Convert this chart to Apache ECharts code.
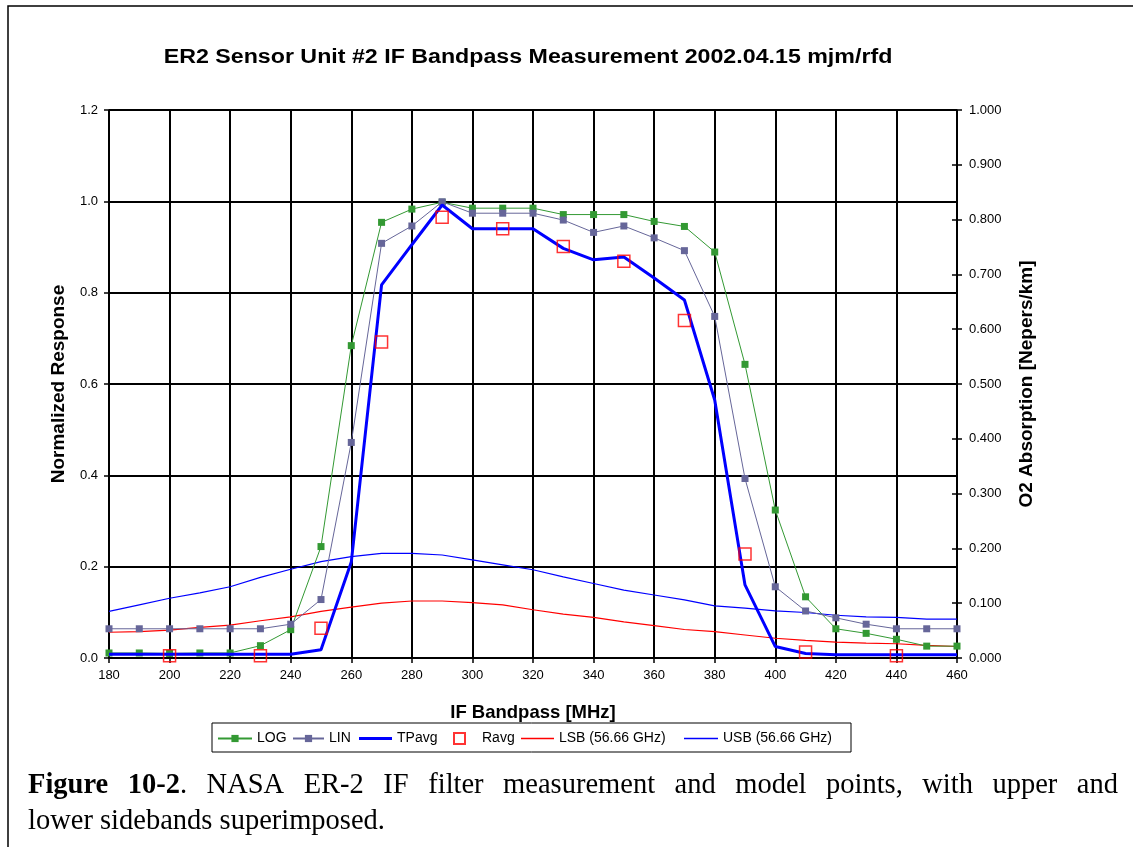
<!DOCTYPE html>
<html>
<head>
<meta charset="utf-8">
<script src="https://cdn.jsdelivr.net/npm/echarts@6/dist/echarts.min.js"></script>
<style>
  html, body { margin: 0; padding: 0; background: #fff; }
  #chart { width: 1133px; height: 847px; }
</style>
</head>
<body>
<div id="chart"></div>
<script>
// IF frequency grid for the measured curves (MHz)
const freqs = [180,190,200,210,220,230,240,250,260,270,280,290,300,310,320,330,340,350,360,370,380,390,400,410,420,430,440,450,460];

// Normalized filter response, log detector
const logResp = [0.011,0.011,0.010,0.011,0.011,0.027,0.062,0.244,0.684,0.954,0.983,0.998,0.985,0.985,0.985,0.971,0.971,0.971,0.956,0.945,0.889,0.643,0.324,0.134,0.064,0.054,0.041,0.026,0.026];

// Normalized filter response, linear detector
const linResp = [0.064,0.064,0.064,0.064,0.064,0.064,0.074,0.128,0.472,0.908,0.946,0.999,0.974,0.974,0.974,0.959,0.932,0.946,0.920,0.892,0.748,0.393,0.156,0.103,0.088,0.074,0.064,0.064,0.064];

// Total-power average
const tpAvg = [0.008,0.008,0.008,0.008,0.008,0.008,0.008,0.018,0.210,0.817,0.905,0.992,0.940,0.940,0.940,0.897,0.872,0.878,0.832,0.784,0.565,0.160,0.025,0.010,0.007,0.007,0.007,0.007,0.007];

// Radiometer average (model points)
const ravgFreqs = [200,230,250,270,290,310,330,350,370,390,410,440];
const ravgResp  = [0.005,0.005,0.065,0.692,0.965,0.940,0.901,0.869,0.739,0.228,0.013,0.005];

// O2 absorption in the lower / upper sideband at 56.66 GHz (Nepers/km)
const lsbAbs = [0.047,0.048,0.051,0.056,0.060,0.068,0.075,0.085,0.093,0.100,0.104,0.104,0.101,0.097,0.088,0.080,0.074,0.066,0.059,0.052,0.048,0.042,0.036,0.032,0.029,0.027,0.026,0.023,0.021];
const usbAbs = [0.085,0.097,0.109,0.119,0.130,0.147,0.162,0.176,0.185,0.191,0.191,0.188,0.179,0.170,0.161,0.148,0.136,0.124,0.115,0.106,0.095,0.091,0.086,0.083,0.078,0.075,0.074,0.071,0.071];

const seriesNames = ['LOG','LIN','TPavg','Ravg','LSB (56.66 GHz)','USB (56.66 GHz)'];

const titleText = 'ER2 Sensor Unit #2 IF Bandpass Measurement 2002.04.15 mjm/rfd';
const xTitle = 'IF Bandpass [MHz]';
const yLeftTitle = 'Normalized Response';
const yRightTitle = 'O2 Absorption [Nepers/km]';
const captionLine1Bold = 'Figure 10-2';
const captionLine1Rest = '. NASA ER-2 IF filter measurement and model points, with upper and';
const captionLine2 = 'lower sidebands superimposed.';

const pairs = (xs, ys) => xs.map((x, i) => [x, ys[i]]);

const FONT = '"Liberation Sans", Arial, sans-serif';
const SERIF_NAME = 'Liberation Serif';
const SERIF = '"Liberation Serif", "Times New Roman", serif';
const CAP_SIZE = 28.5;

// ---- legend layout: one small legend per entry inside a framed box ----
const LEG_TOP = 731.5;
const legendSpec = [
  { left: 217, iw: 34, ih: 9 },
  { left: 292, iw: 31, ih: 9 },
  { left: 359, iw: 33, ih: 3, icon: 'rect' },
  { left: 453, iw: 11, ih: 11, icon: 'rect', textPad: 12 },
  { left: 521, iw: 33, ih: 1.5, icon: 'rect' },
  { left: 684, iw: 34, ih: 1.5, icon: 'rect' }
];
const legends = seriesNames.map((name, i) => {
  const s = legendSpec[i];
  return {
    data: [s.icon ? { name, icon: s.icon } : name],
    left: s.left, top: LEG_TOP,
    padding: 0,
    itemWidth: s.iw, itemHeight: s.ih,
    selectedMode: false,
    textStyle: {
      fontFamily: FONT, fontSize: 14, color: '#000',
      padding: s.textPad ? [0, 0, 0, s.textPad] : 0
    }
  };
});

// ---- justified caption, first line spread across the text block ----
const measure = (() => {
  const ctx = document.createElement('canvas').getContext('2d');
  return (txt, bold) => {
    ctx.font = (bold ? 'bold ' : '') + CAP_SIZE + 'px "' + SERIF_NAME + '"';
    return ctx.measureText(txt).width;
  };
})();
function captionGraphics() {
  const boldWords = captionLine1Bold.split(' ');
  const restWords = captionLine1Rest.trim().split(' ');
  // tokens: arrays of [text, bold]
  const tokens = boldWords.map(w => [[w, true]]);
  // the period right after the figure number sticks to it
  const first = restWords.shift();
  tokens[tokens.length - 1].push([first, false]);
  restWords.forEach(w => tokens.push([[w, false]]));
  const widths = tokens.map(t => t.reduce((a, [s, b]) => a + measure(s, b), 0));
  const x0 = 28, x1 = 1118;
  const total = widths.reduce((a, b) => a + b, 0);
  const gap = (x1 - x0 - total) / (tokens.length - 1);
  const out = [];
  let x = x0;
  tokens.forEach((t, i) => {
    out.push({
      type: 'text', x: x, y: 786, silent: true,
      style: {
        text: t.map(([s, b]) => '{' + (b ? 'b' : 'r') + '|' + s + '}').join(''),
        verticalAlign: 'middle',
        rich: {
          b: { fontFamily: SERIF, fontWeight: 'bold', fontSize: CAP_SIZE, fill: '#000' },
          r: { fontFamily: SERIF, fontSize: CAP_SIZE, fill: '#000' }
        }
      }
    });
    x += widths[i] + gap;
  });
  out.push({
    type: 'text', x: x0, y: 822, silent: true,
    style: { text: captionLine2, fontFamily: SERIF, fontSize: CAP_SIZE, fill: '#000', verticalAlign: 'middle' }
  });
  return out;
}

const chart = echarts.init(document.getElementById('chart'), null, { renderer: 'canvas' });

chart.setOption({
  backgroundColor: '#ffffff',
  animation: false,
  grid: { left: 109, right: 176, top: 110, bottom: 189, containLabel: false },
  xAxis: {
    type: 'value', min: 180, max: 460, interval: 20,
    name: xTitle, nameLocation: 'middle', nameGap: 45,
    nameTextStyle: { fontFamily: FONT, fontWeight: 'bold', fontSize: 18.5, color: '#000' },
    axisLine: { show: true, onZero: false, lineStyle: { color: '#000', width: 1.5 } },
    axisTick: { show: true, length: 5, lineStyle: { color: '#000', width: 1.5 } },
    axisLabel: { fontFamily: FONT, fontSize: 13, color: '#000', margin: 11 },
    splitLine: { show: true, lineStyle: { color: '#000', width: 2 } }
  },
  yAxis: [
    {
      type: 'value', position: 'left', min: 0, max: 1.2, interval: 0.2,
      name: yLeftTitle, nameLocation: 'middle', nameGap: 41, nameRotate: 90,
      nameTextStyle: { fontFamily: FONT, fontWeight: 'bold', fontSize: 19, color: '#000' },
      axisLine: { show: true, lineStyle: { color: '#000', width: 1.5 } },
      axisTick: { show: true, length: 5, lineStyle: { color: '#000', width: 1.5 } },
      axisLabel: { fontFamily: FONT, fontSize: 13, color: '#000', margin: 11, formatter: v => v.toFixed(1) },
      splitLine: { show: true, lineStyle: { color: '#000', width: 2 } }
    },
    {
      type: 'value', position: 'right', min: 0, max: 1, interval: 0.1,
      name: yRightTitle, nameLocation: 'middle', nameGap: 60, nameRotate: 90,
      nameTextStyle: { fontFamily: FONT, fontWeight: 'bold', fontSize: 19, color: '#000' },
      axisLine: { show: true, lineStyle: { color: '#000', width: 1.5 } },
      axisTick: { show: true, length: 5, lineStyle: { color: '#000', width: 1.5 } },
      axisLabel: { fontFamily: FONT, fontSize: 13, color: '#000', margin: 12, formatter: v => v.toFixed(3) },
      splitLine: { show: false }
    },
    {
      // inner half of the crossing ticks on the right axis
      type: 'value', position: 'right', min: 0, max: 1, interval: 0.1,
      axisLine: { show: false },
      axisTick: { show: true, inside: true, length: 5, lineStyle: { color: '#000', width: 1.5 } },
      axisLabel: { show: false },
      splitLine: { show: false }
    }
  ],
  legend: legends,
  series: [
    {
      name: seriesNames[0], type: 'line', yAxisIndex: 0,
      data: pairs(freqs, logResp),
      symbol: 'rect', symbolSize: 7, showSymbol: true,
      lineStyle: { color: '#339933', width: 1 },
      itemStyle: { color: '#339933' },
      z: 3
    },
    {
      name: seriesNames[1], type: 'line', yAxisIndex: 0,
      data: pairs(freqs, linResp),
      symbol: 'rect', symbolSize: 7, showSymbol: true,
      lineStyle: { color: '#666699', width: 1 },
      itemStyle: { color: '#666699' },
      z: 3
    },
    {
      name: seriesNames[2], type: 'line', yAxisIndex: 0,
      data: pairs(freqs, tpAvg),
      symbol: 'none',
      lineStyle: { color: '#0000ff', width: 3 },
      itemStyle: { color: '#0000ff' },
      z: 4
    },
    {
      name: seriesNames[3], type: 'scatter', yAxisIndex: 0,
      data: pairs(ravgFreqs, ravgResp),
      symbol: 'rect', symbolSize: 12,
      itemStyle: { color: 'rgba(0,0,0,0)', borderColor: '#ff0000', borderWidth: 1.5 },
      z: 5
    },
    {
      name: seriesNames[4], type: 'line', yAxisIndex: 1,
      data: pairs(freqs, lsbAbs),
      symbol: 'none',
      lineStyle: { color: '#ff0000', width: 1.2 },
      itemStyle: { color: '#ff0000' },
      z: 2
    },
    {
      name: seriesNames[5], type: 'line', yAxisIndex: 1,
      data: pairs(freqs, usbAbs),
      symbol: 'none',
      lineStyle: { color: '#0000ff', width: 1.2 },
      itemStyle: { color: '#0000ff' },
      z: 2
    }
  ],
  graphic: [
    {
      type: 'rect', silent: true, z: -1,
      shape: { x: 8, y: 6, width: 1140, height: 860 },
      style: { fill: 'none', stroke: '#000', lineWidth: 1.5 }
    },
    {
      // chart title, drawn slightly widened
      type: 'text', x: 528, y: 58, scaleX: 1.19, silent: true,
      style: {
        text: titleText, fontFamily: FONT, fontWeight: 'bold', fontSize: 19.5, fill: '#000',
        align: 'center', verticalAlign: 'middle'
      }
    },
    {
      type: 'rect', silent: true,
      shape: { x: 212, y: 723, width: 639, height: 29 },
      style: { fill: 'none', stroke: '#000', lineWidth: 1 }
    }
  ].concat(captionGraphics())
});
</script>
</body>
</html>
